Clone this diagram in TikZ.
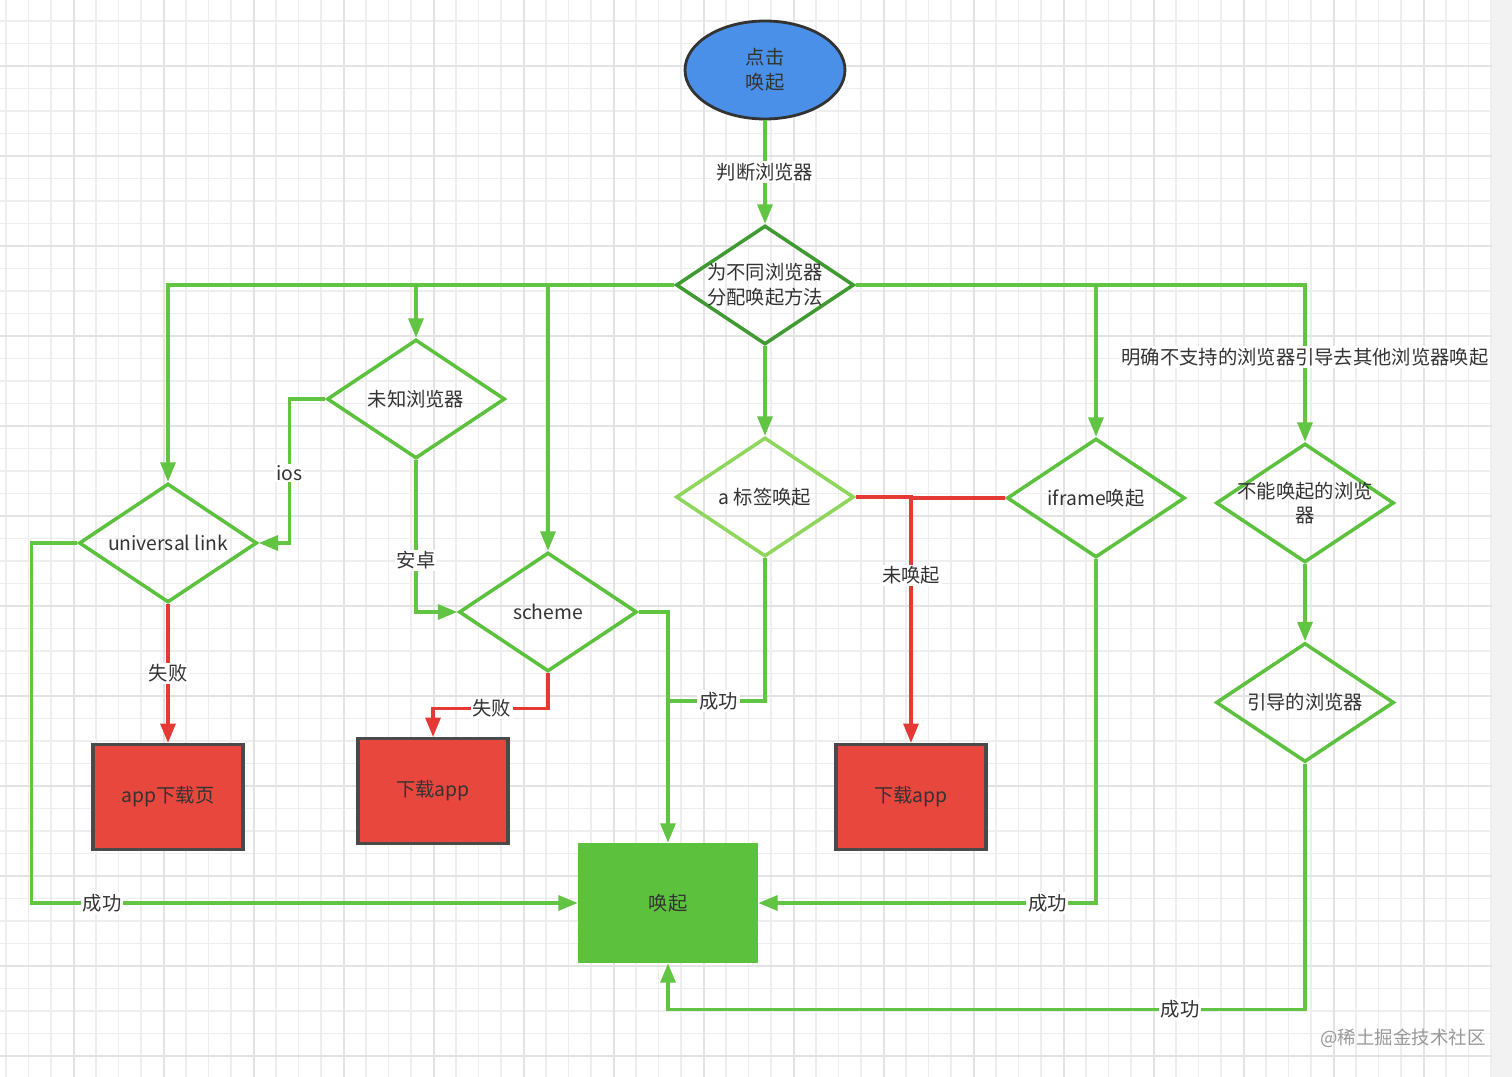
\documentclass[tikz,border=0pt]{standalone}
\usepackage{fontspec}
\setmainfont{Noto Sans CJK SC}
\usepackage{xcolor}
\usepackage{tikz}
\usetikzlibrary{shapes.geometric,arrows.meta,positioning}
\tikzset{>={Triangle[length=11pt,width=8.5pt]}}

\definecolor{lineGreen}{HTML}{62C443}
\definecolor{boxGreen}{HTML}{5CC13D}
\definecolor{darkGreen}{HTML}{3F9A32}
\definecolor{lightGreen}{HTML}{8FD65C}
\definecolor{lineRed}{HTML}{E53935}
\definecolor{boxRed}{HTML}{E8473E}
\definecolor{rectBorder}{HTML}{4A4A4A}
\definecolor{startBlue}{HTML}{4A90E8}
\definecolor{textGray}{HTML}{333333}
\definecolor{gridMinor}{HTML}{EEEEEE}
\definecolor{gridMajor}{HTML}{E3E3E3}

\begin{document}
\begin{tikzpicture}[x=0.02cm,y=-0.02cm,
font=\fontsize{11}{14}\selectfont, text=textGray,
diamondnode/.style={diamond, aspect=1.5, draw=boxGreen, line width=2pt, align=center, inner xsep=-0.8cm, inner ysep=0pt, minimum width=3.56cm, minimum height=2.38cm},
startnode/.style={ellipse, draw=textGray, fill=startBlue, line width=1.6pt, align=center, minimum width=3.2cm, minimum height=1.96cm},
rednode/.style={rectangle, draw=rectBorder, fill=boxRed, line width=1.8pt, minimum width=3cm, minimum height=2.1cm},
greennode/.style={rectangle, fill=boxGreen, minimum width=3.6cm, minimum height=2.4cm},
gline/.style={draw=lineGreen, line width=1.9pt},
rline/.style={draw=lineRed, line width=1.9pt},
lbl/.style={fill=white, inner sep=1pt},
]
\useasboundingbox (0,0) rectangle (1512,1077);
%Grid
\fill[white] (0,0) rectangle (1492,1077);
\fill[black!5] (1492,0) rectangle (1512,1077);
\foreach \i in {0,...,66} \draw[gridMinor, line width=0.6pt] ({6+22.5*\i},0) -- ({6+22.5*\i},1077);
\foreach \j in {1,...,48} \draw[gridMinor, line width=0.6pt] (0,{-1.5+22.5*\j}) -- (1492,{-1.5+22.5*\j});
\foreach \i in {0,...,15} \draw[gridMajor, line width=0.8pt] ({74+90*\i},0) -- ({74+90*\i},1077);
\foreach \j in {0,...,11} \draw[gridMajor, line width=0.8pt] (0,{66+90*\j}) -- (1492,{66+90*\j});

%Nodes
\node[startnode](start) at (765,70) {点击\\唤起};
\node[diamondnode, draw=darkGreen](main) at (765,285) {为不同浏览器\\分配唤起方法};
\node[diamondnode](unk) at (416,399) {未知浏览器};
\node[diamondnode](ul) at (168,543) {universal link};
\node[diamondnode](sch) at (548,612) {scheme};
\node[diamondnode, draw=lightGreen](atag) at (765,497) {a 标签唤起};
\node[diamondnode](ifr) at (1096,498) {iframe唤起};
\node[diamondnode](nob) at (1305,503) {不能唤起的浏览\\器};
\node[diamondnode](guide)[below=1.54cm of nob]{引导的浏览器};
\node[rednode](appdl) at (168,797) {app下载页};
\node[rednode](dl1) at (433,791) {下载app};
\node[rednode](dl2) at (911,797) {下载app};
\node[greennode](wake) at (668,903) {唤起};
\coordinate (joinA) at (wake.north |- 0,701);
\node[text=black!40, font=\fontsize{10.5}{13}\selectfont](mark) at (1403,1038) {@稀土掘金技术社区};

%Lines
\draw[gline,->] (start) -- node[lbl]{判断浏览器} (main);
\draw[gline,->] (main.west) -| (ul.north);
\draw[gline,->] (main.west) -| (unk.north);
\draw[gline,->] (main.west) -| (sch.north);
\draw[gline,->] (main.south) -- (atag.north);
\draw[gline,->] (main.east) -| (ifr.north);
\draw[gline,->] (main.east) -| node[lbl,pos=0.73]{明确不支持的浏览器引导去其他浏览器唤起} (nob.north);
\draw[gline,->] (unk.west) -- ++(-36,0) |- node[lbl,pos=0.257]{ios} (ul.east);
\draw[gline,->] (unk.south) |- node[lbl,pos=0.33]{安卓} (sch.west);
\draw[rline,->] (ul.south) -- node[lbl]{失败} (appdl.north);
\draw[gline,->] (ul.west) -- ++(-46,0) |- node[lbl,pos=0.565]{成功} (wake.west);
\draw[rline,->] (sch.south) -- ++(0,35) -| node[lbl,pos=0.245]{失败} (dl1.north);
\draw[gline,->] (sch.east) -| (wake.north);
\draw[gline] (atag.south) |- node[lbl,pos=0.74]{成功} (joinA);
\draw[rline,->] (atag.east) -| node[lbl,pos=0.66]{未唤起} (dl2.north);
\draw[rline] (ifr.west) -- (ifr.west -| dl2.north);
\draw[gline,->] (ifr.south) |- node[lbl,pos=0.572]{成功} (wake.east);
\draw[gline,->] (nob.south) -- (guide.north);
\draw[gline,->] (guide.south) -- ++(0,246) -| node[lbl,pos=0.098]{成功} (wake.south);

\end{tikzpicture}
\end{document}
